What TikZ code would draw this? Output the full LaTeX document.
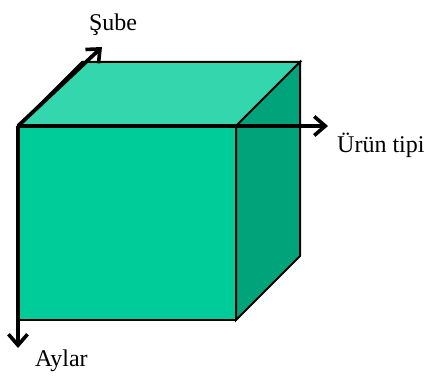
\documentclass[tikz,border=0pt]{standalone}
\usepackage{fontspec}
\setmainfont{Liberation Serif}
\usetikzlibrary{arrows.meta}
\definecolor{frontc}{RGB}{0,204,153}
\definecolor{topc}{RGB}{51,214,173}
\definecolor{sidec}{RGB}{0,163,122}
\begin{document}
\begin{tikzpicture}[x=1pt,y=-1pt,
  face/.style={draw=black,line width=2pt,line join=miter},
  axis/.style={line width=3.8pt,-{Straight Barb[length=11pt,width=19pt,line width=3.6pt]}},
  lbl/.style={font=\fontsize{24}{26}\selectfont,inner sep=0pt}]
\useasboundingbox (0,0) rectangle (431,377);
\coordinate (o) at (18,126);
\coordinate (fr) at (236,126);
\coordinate (bl) at (18,320);
\coordinate (br) at (236,320);
\coordinate (tbl) at (82,62);
\coordinate (tbr) at (300,62);
\coordinate (sbr) at (300,256);
\fill[topc,face] (o) -- (tbl) -- (tbr) -- (fr) -- cycle;
\fill[sidec,face] (fr) -- (tbr) -- (sbr) -- (br) -- cycle;
\fill[frontc,face] (o) -- (fr) -- (br) -- (bl) -- cycle;
\coordinate (sube) at (102,47);
\coordinate (urun) at (328,126);
\coordinate (aylar) at (18,348);
\draw[axis] (o) -- (sube);
\draw[axis] (o) -- (urun);
\draw[axis] (o) -- (aylar);
\node[lbl,anchor=base] (ls) at (113,31) {Şube};
\node[lbl,anchor=base west] (lu) at (337,153) {Ürün tipi};
\node[lbl,anchor=base west] (la) at (35,366) {Aylar};
\end{tikzpicture}
\end{document}
